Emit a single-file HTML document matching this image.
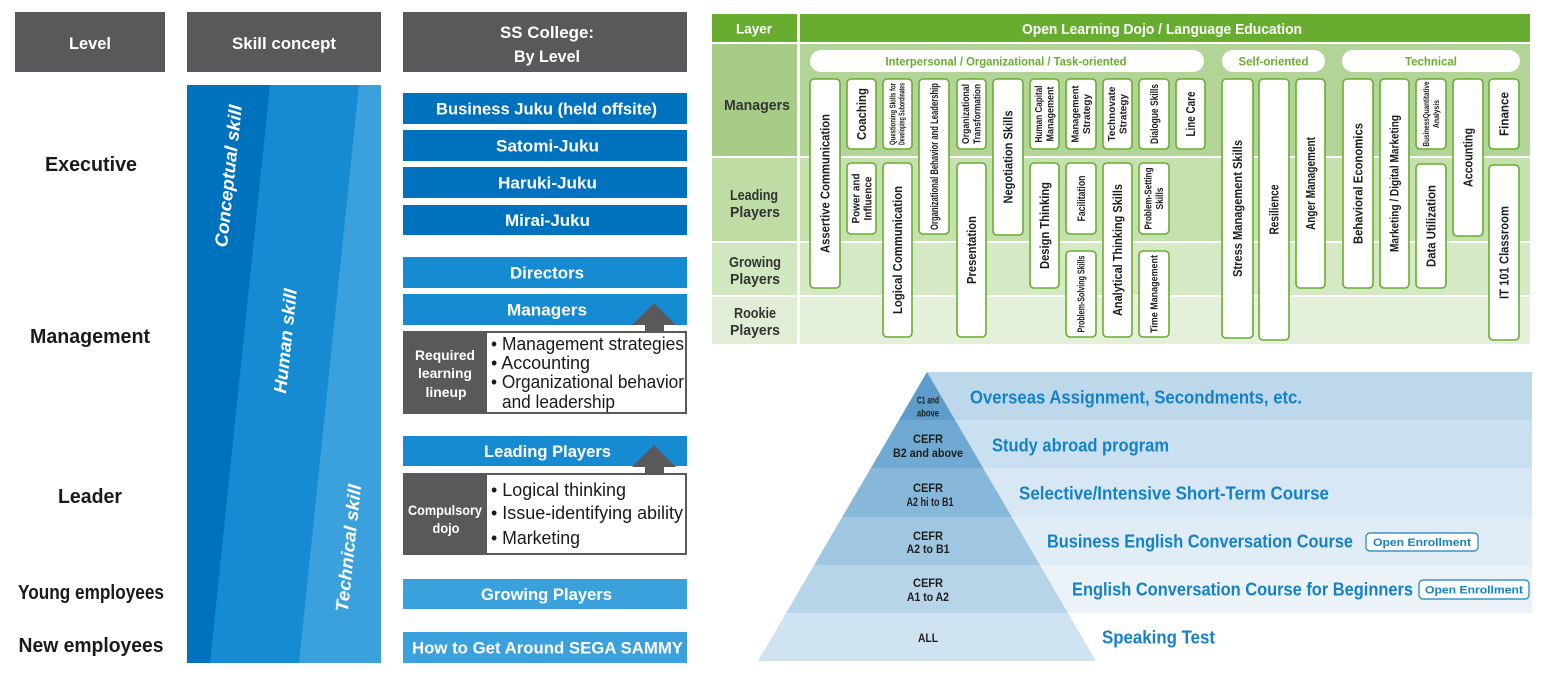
<!DOCTYPE html>
<html><head><meta charset="utf-8"><style>
html,body{margin:0;padding:0;background:#fff;}
svg{display:block;}
text{font-family:"Liberation Sans",Arial,sans-serif;}
</style></head><body>
<svg width="1548" height="680" viewBox="0 0 1548 680" xmlns="http://www.w3.org/2000/svg">
<rect width="1548" height="680" fill="#fff"/>

<!-- Left headers -->
<rect x="15" y="12" width="150" height="60" fill="#59585a"/>
<rect x="187" y="12" width="194" height="60" fill="#59585a"/>
<rect x="403" y="12" width="284" height="60" fill="#59585a"/>
<g fill="#fff" font-weight="bold" font-size="17" text-anchor="middle">
<text x="90" y="49" textLength="42" lengthAdjust="spacingAndGlyphs">Level</text>
<text x="284" y="49" textLength="104" lengthAdjust="spacingAndGlyphs">Skill concept</text>
<text x="547" y="38" textLength="94" lengthAdjust="spacingAndGlyphs">SS College:</text>
<text x="547" y="62" textLength="66" lengthAdjust="spacingAndGlyphs">By Level</text>
</g>

<!-- Level labels -->
<g fill="#1a1a1a" font-weight="bold" font-size="20" text-anchor="middle">
<text x="91" y="171" textLength="92" lengthAdjust="spacingAndGlyphs">Executive</text>
<text x="90" y="343" textLength="120" lengthAdjust="spacingAndGlyphs">Management</text>
<text x="90" y="503" textLength="64" lengthAdjust="spacingAndGlyphs">Leader</text>
<text x="91" y="599" textLength="146" lengthAdjust="spacingAndGlyphs">Young employees</text>
<text x="91" y="652" textLength="145" lengthAdjust="spacingAndGlyphs">New employees</text>
</g>

<!-- Skill concept column -->
<rect x="187" y="85" width="194" height="578" fill="#3aa1dd"/>
<polygon points="187,85 359,85 299,663 187,663" fill="#178bd1"/>
<polygon points="187,85 270,85 210,663 187,663" fill="#0071bd"/>
<g fill="#fff" font-weight="bold" font-style="italic" font-size="18" text-anchor="middle">
<g transform="translate(228,176) rotate(-84)"><text x="0" y="6.5" textLength="143" lengthAdjust="spacingAndGlyphs">Conceptual skill</text></g>
<g transform="translate(285,341) rotate(-84)"><text x="0" y="6.5" textLength="105" lengthAdjust="spacingAndGlyphs">Human skill</text></g>
<g transform="translate(348,548) rotate(-84)"><text x="0" y="6.5" textLength="128" lengthAdjust="spacingAndGlyphs">Technical skill</text></g>
</g>

<!-- SS College boxes -->
<rect x="403" y="93" width="284" height="31" fill="#0071bd"/>
<rect x="403" y="130" width="284" height="31" fill="#0071bd"/>
<rect x="403" y="167" width="284" height="31" fill="#0071bd"/>
<rect x="403" y="205" width="284" height="30" fill="#0071bd"/>
<rect x="403" y="257" width="284" height="31" fill="#178bd1"/>
<rect x="403" y="294" width="284" height="31" fill="#178bd1"/>
<rect x="403" y="436" width="284" height="30" fill="#178bd1"/>
<rect x="403" y="579" width="284" height="30" fill="#3aa1dd"/>
<rect x="403" y="632" width="284" height="31" fill="#3aa1dd"/>
<g fill="#fff" font-weight="bold" font-size="17" text-anchor="middle">
<text x="546.5" y="114.5" textLength="221" lengthAdjust="spacingAndGlyphs">Business Juku (held offsite)</text>
<text x="547.5" y="151.5" textLength="103" lengthAdjust="spacingAndGlyphs">Satomi-Juku</text>
<text x="547.5" y="188.5" textLength="99" lengthAdjust="spacingAndGlyphs">Haruki-Juku</text>
<text x="547.5" y="226" textLength="85" lengthAdjust="spacingAndGlyphs">Mirai-Juku</text>
<text x="547" y="278.5" textLength="74" lengthAdjust="spacingAndGlyphs">Directors</text>
<text x="547" y="315.5" textLength="80" lengthAdjust="spacingAndGlyphs">Managers</text>
<text x="547.5" y="457" textLength="127" lengthAdjust="spacingAndGlyphs">Leading Players</text>
<text x="546.5" y="600" textLength="131" lengthAdjust="spacingAndGlyphs">Growing Players</text>
<text x="547.5" y="653.5" textLength="271" lengthAdjust="spacingAndGlyphs">How to Get Around SEGA SAMMY</text>
</g>

<!-- Arrows -->
<polygon points="654,303 632,325 676,325" fill="#59585a"/>
<rect x="645" y="324" width="19" height="9" fill="#59585a"/>
<polygon points="654,445 632,467 676,467" fill="#59585a"/>
<rect x="645" y="466" width="19" height="9" fill="#59585a"/>

<!-- Required box -->
<rect x="403" y="331" width="284" height="83" fill="#59585a"/>
<rect x="487" y="333" width="198" height="79" fill="#fff"/>
<g fill="#fff" font-weight="bold" font-size="14" text-anchor="middle">
<text x="445" y="360" textLength="60" lengthAdjust="spacingAndGlyphs">Required</text>
<text x="445" y="378" textLength="54" lengthAdjust="spacingAndGlyphs">learning</text>
<text x="446" y="397" textLength="41" lengthAdjust="spacingAndGlyphs">lineup</text>
</g>
<g fill="#1a1a1a" font-size="18">
<text x="491" y="350" textLength="193" lengthAdjust="spacingAndGlyphs">• Management strategies</text>
<text x="491" y="369" textLength="99" lengthAdjust="spacingAndGlyphs">• Accounting</text>
<text x="491" y="388" textLength="193" lengthAdjust="spacingAndGlyphs">• Organizational behavior</text>
<text x="502" y="408" textLength="113" lengthAdjust="spacingAndGlyphs">and leadership</text>
</g>

<!-- Compulsory box -->
<rect x="403" y="473" width="284" height="82" fill="#59585a"/>
<rect x="487" y="475" width="198" height="78" fill="#fff"/>
<g fill="#fff" font-weight="bold" font-size="14" text-anchor="middle">
<text x="445" y="515" textLength="74" lengthAdjust="spacingAndGlyphs">Compulsory</text>
<text x="446" y="533" textLength="27" lengthAdjust="spacingAndGlyphs">dojo</text>
</g>
<g fill="#1a1a1a" font-size="18">
<text x="491" y="496" textLength="135" lengthAdjust="spacingAndGlyphs">• Logical thinking</text>
<text x="491" y="519" textLength="192" lengthAdjust="spacingAndGlyphs">• Issue-identifying ability</text>
<text x="491" y="544" textLength="89" lengthAdjust="spacingAndGlyphs">• Marketing</text>
</g>

<!-- Green table -->
<rect x="712" y="14" width="85" height="28" fill="#68ad2f"/>
<rect x="800" y="14" width="730" height="28" fill="#68ad2f"/>
<g fill="#fff" font-weight="bold" text-anchor="middle">
<text x="754" y="33.5" font-size="14" textLength="36" lengthAdjust="spacingAndGlyphs">Layer</text>
<text x="1162" y="34" font-size="15" textLength="280" lengthAdjust="spacingAndGlyphs">Open Learning Dojo / Language Education</text>
</g>
<rect x="712" y="44" width="85" height="112" fill="#a6cc88"/>
<rect x="800" y="44" width="730" height="112" fill="#b2d597"/>
<rect x="712" y="158" width="85" height="83" fill="#bfdca5"/>
<rect x="800" y="158" width="730" height="83" fill="#c5e1ae"/>
<rect x="712" y="243" width="85" height="52" fill="#d1e7bf"/>
<rect x="800" y="243" width="730" height="52" fill="#d5e9c5"/>
<rect x="712" y="297" width="85" height="47" fill="#e1eed5"/>
<rect x="800" y="297" width="730" height="47" fill="#e4f0da"/>

<g fill="#333" font-weight="bold" font-size="15" text-anchor="middle">
<text x="757" y="110" textLength="66" lengthAdjust="spacingAndGlyphs">Managers</text>
<text x="754" y="200" textLength="48" lengthAdjust="spacingAndGlyphs">Leading</text>
<text x="755" y="217" textLength="50" lengthAdjust="spacingAndGlyphs">Players</text>
<text x="755" y="267" textLength="52" lengthAdjust="spacingAndGlyphs">Growing</text>
<text x="755" y="284" textLength="50" lengthAdjust="spacingAndGlyphs">Players</text>
<text x="755" y="318" textLength="42" lengthAdjust="spacingAndGlyphs">Rookie</text>
<text x="755" y="335" textLength="50" lengthAdjust="spacingAndGlyphs">Players</text>
</g>

<!-- Pills -->
<rect x="810" y="50" width="394" height="22" rx="11" fill="#fff"/>
<rect x="1222" y="50" width="103" height="22" rx="11" fill="#fff"/>
<rect x="1342" y="50" width="178" height="22" rx="11" fill="#fff"/>
<g fill="#68ad2f" font-weight="bold" font-size="12" text-anchor="middle">
<text x="1006" y="65.5" textLength="241" lengthAdjust="spacingAndGlyphs">Interpersonal / Organizational / Task-oriented</text>
<text x="1273.5" y="65.5" textLength="70" lengthAdjust="spacingAndGlyphs">Self-oriented</text>
<text x="1431" y="65.5" textLength="52" lengthAdjust="spacingAndGlyphs">Technical</text>
</g>

<!-- Skill boxes -->
<g fill="#fff" stroke="#68ad2f" stroke-width="1.6">
<rect x="810" y="79" width="30" height="209" rx="4"/>
<rect x="847" y="79" width="29" height="70" rx="4"/>
<rect x="883" y="79" width="29" height="70" rx="4"/>
<rect x="919" y="79" width="30" height="155" rx="4"/>
<rect x="957" y="79" width="29" height="70" rx="4"/>
<rect x="993" y="79" width="30" height="156" rx="4"/>
<rect x="847" y="163" width="29" height="71" rx="4"/>
<rect x="883" y="163" width="29" height="174" rx="4"/>
<rect x="957" y="163" width="29" height="174" rx="4"/>
<rect x="1030" y="79" width="29" height="70" rx="4"/>
<rect x="1066" y="79" width="30" height="70" rx="4"/>
<rect x="1103" y="79" width="29" height="70" rx="4"/>
<rect x="1139" y="79" width="30" height="70" rx="4"/>
<rect x="1176" y="79" width="29" height="70" rx="4"/>
<rect x="1030" y="163" width="29" height="125" rx="4"/>
<rect x="1066" y="163" width="30" height="71" rx="4"/>
<rect x="1103" y="163" width="29" height="174" rx="4"/>
<rect x="1139" y="163" width="30" height="71" rx="4"/>
<rect x="1066" y="251" width="30" height="86" rx="4"/>
<rect x="1139" y="251" width="30" height="86" rx="4"/>
<rect x="1222" y="79" width="31" height="259" rx="4"/>
<rect x="1259" y="79" width="30" height="261" rx="4"/>
<rect x="1296" y="79" width="29" height="209" rx="4"/>
<rect x="1343" y="79" width="30" height="209" rx="4"/>
<rect x="1380" y="79" width="29" height="209" rx="4"/>
<rect x="1416" y="79" width="30" height="70" rx="4"/>
<rect x="1416" y="164" width="30" height="124" rx="4"/>
<rect x="1453" y="79" width="30" height="157" rx="4"/>
<rect x="1489" y="79" width="30" height="70" rx="4"/>
<rect x="1489" y="165" width="30" height="175" rx="4"/>
</g>

<g fill="#1e1e1e" font-weight="bold" text-anchor="middle">
<g transform="translate(825,183.5) rotate(-90)"><text x="0" y="4.5" font-size="13" textLength="139" lengthAdjust="spacingAndGlyphs">Assertive Communication</text></g>
<g transform="translate(861.5,114) rotate(-90)"><text x="0" y="4.5" font-size="13" textLength="52" lengthAdjust="spacingAndGlyphs">Coaching</text></g>
<g transform="translate(897.5,114) rotate(-90)" font-size="8">
<text x="0" y="-2" textLength="62" lengthAdjust="spacingAndGlyphs">Questioning Skills for</text>
<text x="0" y="7" textLength="62" lengthAdjust="spacingAndGlyphs">Developing Subordinates</text></g>
<g transform="translate(934,156.5) rotate(-90)"><text x="0" y="4" font-size="11" textLength="147" lengthAdjust="spacingAndGlyphs">Organizational Behavior and Leadership</text></g>
<g transform="translate(971.5,114) rotate(-90)" font-size="10">
<text x="0" y="-2.5" textLength="60" lengthAdjust="spacingAndGlyphs">Organizational</text>
<text x="0" y="9" textLength="60" lengthAdjust="spacingAndGlyphs">Transformation</text></g>
<g transform="translate(1008,157) rotate(-90)"><text x="0" y="4.5" font-size="13" textLength="93" lengthAdjust="spacingAndGlyphs">Negotiation Skills</text></g>
<g transform="translate(861.5,198.5) rotate(-90)" font-size="11">
<text x="0" y="-2" textLength="50" lengthAdjust="spacingAndGlyphs">Power and</text>
<text x="0" y="10" textLength="44" lengthAdjust="spacingAndGlyphs">Influence</text></g>
<g transform="translate(897.5,250) rotate(-90)"><text x="0" y="4.5" font-size="13" textLength="128" lengthAdjust="spacingAndGlyphs">Logical Communication</text></g>
<g transform="translate(971.5,250) rotate(-90)"><text x="0" y="4.5" font-size="13" textLength="68" lengthAdjust="spacingAndGlyphs">Presentation</text></g>
<g transform="translate(1044.5,114) rotate(-90)" font-size="10">
<text x="0" y="-2.5" textLength="57" lengthAdjust="spacingAndGlyphs">Human Capital</text>
<text x="0" y="9" textLength="55" lengthAdjust="spacingAndGlyphs">Management</text></g>
<g transform="translate(1081,114) rotate(-90)" font-size="10">
<text x="0" y="-2.5" textLength="57" lengthAdjust="spacingAndGlyphs">Management</text>
<text x="0" y="9" textLength="40" lengthAdjust="spacingAndGlyphs">Strategy</text></g>
<g transform="translate(1117.5,114) rotate(-90)" font-size="10">
<text x="0" y="-2.5" textLength="55" lengthAdjust="spacingAndGlyphs">Technovate</text>
<text x="0" y="9" textLength="40" lengthAdjust="spacingAndGlyphs">Strategy</text></g>
<g transform="translate(1154,114) rotate(-90)"><text x="0" y="4" font-size="11" textLength="60" lengthAdjust="spacingAndGlyphs">Dialogue Skills</text></g>
<g transform="translate(1190.5,114) rotate(-90)"><text x="0" y="4.5" font-size="13" textLength="45" lengthAdjust="spacingAndGlyphs">Line Care</text></g>
<g transform="translate(1044.5,225.5) rotate(-90)"><text x="0" y="4.5" font-size="13" textLength="87" lengthAdjust="spacingAndGlyphs">Design Thinking</text></g>
<g transform="translate(1081,198.5) rotate(-90)"><text x="0" y="4" font-size="11" textLength="46" lengthAdjust="spacingAndGlyphs">Facilitation</text></g>
<g transform="translate(1117.5,250) rotate(-90)"><text x="0" y="4.5" font-size="13" textLength="132" lengthAdjust="spacingAndGlyphs">Analytical Thinking Skills</text></g>
<g transform="translate(1154,198.5) rotate(-90)" font-size="10">
<text x="0" y="-2.5" textLength="62" lengthAdjust="spacingAndGlyphs">Problem-Setting</text>
<text x="0" y="9" textLength="22" lengthAdjust="spacingAndGlyphs">Skills</text></g>
<g transform="translate(1081,294) rotate(-90)"><text x="0" y="3.5" font-size="10" textLength="77" lengthAdjust="spacingAndGlyphs">Problem-Solving Skills</text></g>
<g transform="translate(1154,294) rotate(-90)"><text x="0" y="3.5" font-size="10" textLength="78" lengthAdjust="spacingAndGlyphs">Time Management</text></g>
<g transform="translate(1237.5,208.5) rotate(-90)"><text x="0" y="4.5" font-size="13" textLength="137" lengthAdjust="spacingAndGlyphs">Stress Management Skills</text></g>
<g transform="translate(1274,209.5) rotate(-90)"><text x="0" y="4.5" font-size="13" textLength="50" lengthAdjust="spacingAndGlyphs">Resilience</text></g>
<g transform="translate(1310.5,183.5) rotate(-90)"><text x="0" y="4.5" font-size="13" textLength="93" lengthAdjust="spacingAndGlyphs">Anger Management</text></g>
<g transform="translate(1358,183.5) rotate(-90)"><text x="0" y="4.5" font-size="13" textLength="121" lengthAdjust="spacingAndGlyphs">Behavioral Economics</text></g>
<g transform="translate(1394.5,183.5) rotate(-90)"><text x="0" y="4" font-size="12" textLength="137" lengthAdjust="spacingAndGlyphs">Marketing / Digital Marketing</text></g>
<g transform="translate(1431,114) rotate(-90)" font-size="8">
<text x="0" y="-2" textLength="65" lengthAdjust="spacingAndGlyphs">BusinessQuantitative</text>
<text x="0" y="8" textLength="28" lengthAdjust="spacingAndGlyphs">Analysis</text></g>
<g transform="translate(1431,226) rotate(-90)"><text x="0" y="4.5" font-size="13" textLength="82" lengthAdjust="spacingAndGlyphs">Data Utilization</text></g>
<g transform="translate(1468,157.5) rotate(-90)"><text x="0" y="4.5" font-size="13" textLength="59" lengthAdjust="spacingAndGlyphs">Accounting</text></g>
<g transform="translate(1504,114) rotate(-90)"><text x="0" y="4.5" font-size="13" textLength="44" lengthAdjust="spacingAndGlyphs">Finance</text></g>
<g transform="translate(1504,252.5) rotate(-90)"><text x="0" y="4.5" font-size="13" textLength="93" lengthAdjust="spacingAndGlyphs">IT 101 Classroom</text></g>
</g>

<!-- Pyramid right bands -->
<rect x="927" y="372" width="605" height="48" fill="#bdd8eb"/>
<rect x="927" y="420" width="605" height="48" fill="#c9e0f0"/>
<rect x="927" y="468" width="605" height="49" fill="#d7e7f3"/>
<rect x="927" y="517" width="605" height="48" fill="#e0ecf6"/>
<rect x="927" y="565" width="605" height="48" fill="#ebf2f8"/>

<!-- Pyramid -->
<polygon points="927,372 955.1,420 898.9,420" fill="#5e9dca"/>
<polygon points="898.9,420 955.1,420 983.1,468 870.9,468" fill="#70a9d1"/>
<polygon points="870.9,468 983.1,468 1011.8,517 842.2,517" fill="#87b8da"/>
<polygon points="842.2,517 1011.8,517 1039.9,565 814.1,565" fill="#a0c7e2"/>
<polygon points="814.1,565 1039.9,565 1067.9,613 786.1,613" fill="#b7d4e9"/>
<polygon points="786.1,613 1067.9,613 1096,661 758,661" fill="#d0e3f0"/>

<g fill="#1e1e1e" font-weight="bold" text-anchor="middle">
<text x="928" y="403.5" font-size="10" textLength="22" lengthAdjust="spacingAndGlyphs">C1 and</text>
<text x="928" y="416.5" font-size="10" textLength="22" lengthAdjust="spacingAndGlyphs">above</text>
<text x="928" y="443" font-size="12" textLength="30" lengthAdjust="spacingAndGlyphs">CEFR</text>
<text x="928" y="457" font-size="12" textLength="70" lengthAdjust="spacingAndGlyphs">B2 and above</text>
<text x="928" y="492" font-size="12" textLength="30" lengthAdjust="spacingAndGlyphs">CEFR</text>
<text x="930" y="506" font-size="12" textLength="47" lengthAdjust="spacingAndGlyphs">A2 hi to B1</text>
<text x="928" y="540" font-size="12" textLength="30" lengthAdjust="spacingAndGlyphs">CEFR</text>
<text x="928" y="553" font-size="12" textLength="43" lengthAdjust="spacingAndGlyphs">A2 to B1</text>
<text x="928" y="587" font-size="12" textLength="30" lengthAdjust="spacingAndGlyphs">CEFR</text>
<text x="928" y="601" font-size="12" textLength="42" lengthAdjust="spacingAndGlyphs">A1 to A2</text>
<text x="928" y="642" font-size="12" textLength="20" lengthAdjust="spacingAndGlyphs">ALL</text>
</g>

<g fill="#1681c4" font-weight="bold" font-size="18">
<text x="970" y="403.5" textLength="332" lengthAdjust="spacingAndGlyphs">Overseas Assignment, Secondments, etc.</text>
<text x="992" y="451.5" textLength="177" lengthAdjust="spacingAndGlyphs">Study abroad program</text>
<text x="1019" y="499.5" textLength="310" lengthAdjust="spacingAndGlyphs">Selective/Intensive Short-Term Course</text>
<text x="1047" y="547.5" textLength="306" lengthAdjust="spacingAndGlyphs">Business English Conversation Course</text>
<text x="1072" y="595.5" textLength="341" lengthAdjust="spacingAndGlyphs">English Conversation Course for Beginners</text>
<text x="1102" y="643.5" textLength="113" lengthAdjust="spacingAndGlyphs">Speaking Test</text>
</g>

<!-- Badges -->
<rect x="1366" y="533" width="112" height="18" rx="4" fill="#fff" stroke="#1681c4" stroke-width="1.2"/>
<rect x="1419" y="580" width="110" height="19" rx="4" fill="#fff" stroke="#1681c4" stroke-width="1.2"/>
<g fill="#1681c4" font-weight="bold" font-size="11" text-anchor="middle">
<text x="1422" y="546" textLength="98" lengthAdjust="spacingAndGlyphs">Open Enrollment</text>
<text x="1474" y="593.5" textLength="98" lengthAdjust="spacingAndGlyphs">Open Enrollment</text>
</g>
</svg>
</body></html>
